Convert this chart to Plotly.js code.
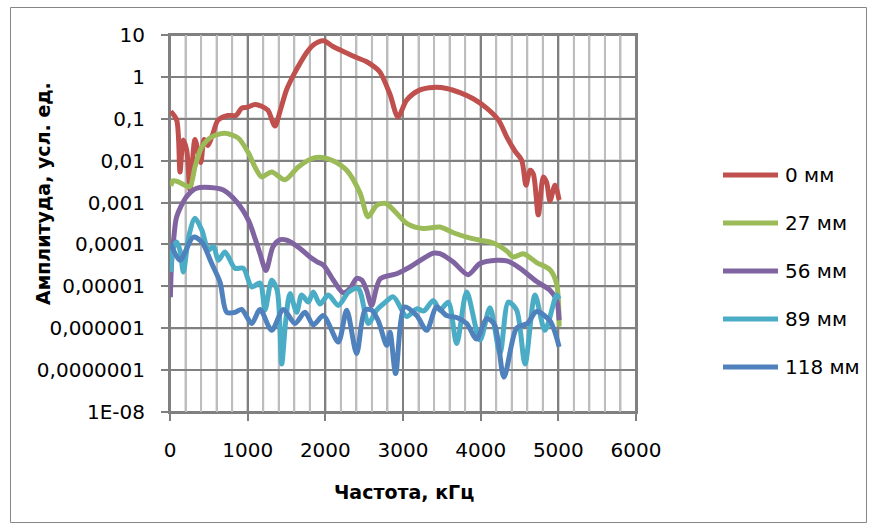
<!DOCTYPE html>
<html>
<head>
<meta charset="utf-8">
<script src="https://cdn.plot.ly/plotly-3.0.1.min.js"></script>
<style>
  html, body { margin: 0; padding: 0; background: #ffffff; }
  #chart { width: 880px; height: 532px; }
</style>
</head>
<body>
<div id="chart"></div>
<script>
// ---- Data ----
const seriesNames = ["0 мм", "27 мм", "56 мм", "89 мм", "118 мм"];
const seriesColors = ["#C0504D", "#9BBB59", "#8064A2", "#4BACC6", "#4F81BD"];

const freq0 = [10, 86, 129, 170, 215, 258, 322, 395, 440, 489, 554, 618, 747, 850, 923, 1000, 1094, 1180, 1260, 1352, 1416, 1502, 1600, 1674, 1760, 1845, 1975, 2100, 2275, 2400, 2532, 2620, 2704, 2833, 2935, 3047, 3219, 3390, 3562, 3734, 3905, 4077, 4230, 4335, 4442, 4528, 4584, 4635, 4678, 4742, 4807, 4850, 4892, 4957, 5010];
const amp0  = [0.15, 0.093, 0.0054, 0.031, 0.018, 0.002, 0.032, 0.009, 0.032, 0.023, 0.045, 0.093, 0.12, 0.12, 0.18, 0.19, 0.22, 0.2, 0.16, 0.067, 0.15, 0.5, 1.2, 2.1, 3.8, 5.8, 7.3, 5.3, 3.7, 2.9, 2.3, 1.8, 1.3, 0.38, 0.11, 0.28, 0.49, 0.56, 0.53, 0.42, 0.3, 0.18, 0.093, 0.037, 0.017, 0.0103, 0.0026, 0.0059, 0.0048, 0.00051, 0.0041, 0.003, 0.0011, 0.0026, 0.00115];

const freq27 = [10, 40, 107, 193, 258, 322, 408, 537, 708, 876, 1004, 1094, 1180, 1309, 1481, 1652, 1846, 1975, 2100, 2275, 2446, 2550, 2661, 2780, 2900, 3047, 3262, 3476, 3648, 3820, 3991, 4163, 4335, 4420, 4549, 4721, 4892, 4978, 5010];
const amp27  = [0.0025, 0.0033, 0.0031, 0.0026, 0.0024, 0.0071, 0.021, 0.037, 0.045, 0.035, 0.016, 0.0071, 0.0041, 0.0054, 0.0035, 0.0071, 0.0115, 0.0118, 0.01, 0.0059, 0.0017, 0.00046, 0.00086, 0.00095, 0.0006, 0.00032, 0.00024, 0.00026, 0.00019, 0.00015, 0.000126, 0.000108, 0.00007, 0.00005, 0.00006, 0.000037, 0.000025, 0.0000115, 0.0000011];

const freq56 = [5, 20, 50, 86, 215, 343, 515, 687, 859, 1009, 1100, 1159, 1236, 1326, 1420, 1502, 1674, 1802, 1900, 1975, 2104, 2232, 2320, 2403, 2470, 2532, 2596, 2704, 2918, 3090, 3390, 3476, 3648, 3837, 3991, 4206, 4350, 4506, 4721, 4892, 4978, 5010];
const amp56  = [5.5e-6, 3.5e-5, 1.5e-4, 4.6e-4, 1.4e-3, 2.2e-3, 2.3e-3, 2.0e-3, 1.04e-3, 3.8e-4, 1.3e-4, 6e-5, 2.4e-5, 8.8e-5, 1.3e-4, 1.26e-4, 8e-5, 5e-5, 3.8e-5, 3.2e-5, 1.4e-5, 7e-6, 9e-6, 1.55e-5, 1.4e-5, 8e-6, 3.5e-6, 1.5e-5, 2e-5, 2.9e-5, 6.2e-5, 6e-5, 3.8e-5, 1.9e-5, 3.5e-5, 4.2e-5, 4e-5, 2.7e-5, 1.3e-5, 8.1e-6, 4.7e-6, 1.55e-6];

const freq89 = [10, 40, 86, 130, 172, 240, 322, 410, 494, 560, 622, 708, 837, 944, 1052, 1159, 1223, 1309, 1380, 1438, 1490, 1545, 1631, 1695, 1781, 1845, 1931, 2039, 2167, 2300, 2425, 2554, 2661, 2760, 2876, 3047, 3176, 3270, 3390, 3476, 3583, 3691, 3820, 3991, 4120, 4249, 4356, 4463, 4571, 4700, 4828, 4978, 5010];
const amp89  = [2.2e-5, 8e-5, 1.15e-4, 7e-5, 2.2e-5, 1.5e-4, 4.2e-4, 2.2e-4, 7.3e-5, 9e-5, 4.2e-5, 6.6e-5, 2.7e-5, 2.7e-5, 9.7e-6, 1.2e-5, 2.7e-6, 1.4e-5, 8e-6, 1.4e-7, 1.5e-6, 6.7e-6, 2.4e-6, 6.2e-6, 4.2e-6, 7.3e-6, 3.8e-6, 6.2e-6, 3.5e-6, 7.3e-6, 8.8e-6, 1.3e-6, 2.7e-6, 4e-6, 5.6e-6, 1.9e-6, 2.9e-6, 2.6e-6, 4.6e-6, 2.7e-6, 4.2e-6, 4.3e-7, 7.3e-6, 5.2e-7, 3.1e-6, 2.5e-7, 4.2e-6, 2.7e-6, 1.4e-7, 6.2e-6, 8.9e-7, 6.2e-6, 5e-6];

const freq118 = [10, 129, 300, 408, 537, 644, 730, 837, 923, 1052, 1159, 1309, 1459, 1609, 1738, 1845, 1974, 2167, 2275, 2403, 2510, 2596, 2682, 2790, 2833, 2905, 3020, 3176, 3305, 3433, 3562, 3691, 3820, 3948, 4077, 4180, 4300, 4463, 4600, 4721, 4892, 5010];
const amp118  = [1.05e-4, 4.2e-5, 1.5e-4, 1.15e-4, 3.5e-5, 1.26e-5, 2.4e-6, 2.4e-6, 2.8e-6, 1.3e-6, 2.8e-6, 8.9e-7, 2.8e-6, 1.3e-6, 2.4e-6, 1.2e-6, 2e-6, 4.7e-7, 2.7e-6, 2.5e-7, 2.7e-6, 2.7e-6, 1.5e-6, 3.9e-7, 8e-7, 8.3e-8, 3.2e-6, 2e-6, 8.9e-7, 3.2e-6, 2e-6, 1.8e-6, 1.3e-6, 5.5e-7, 1.7e-6, 1.2e-6, 6.8e-8, 1e-6, 1.3e-6, 2.5e-6, 1.5e-6, 3.6e-7];

const xValues = [freq0, freq27, freq56, freq89, freq118];
const yValues = [amp0, amp27, amp56, amp89, amp118];

const yTickVals = [10, 1, 0.1, 0.01, 0.001, 0.0001, 0.00001, 0.000001, 0.0000001, 1e-8];
const yTickText = ["10", "1", "0,1", "0,01", "0,001", "0,0001", "0,00001", "0,000001", "0,0000001", "1E-08"];

const xTitle = "Частота, кГц";
const yTitle = "Амплитуда, усл. ед.";

// ---- Chart ----
const FONT = "DejaVu Sans, sans-serif";
const MAJOR = "#808080", MINOR = "#bdbdbd";
const X_RANGE = [0, 6000], X_MAJOR = 1000, X_MINOR = 200;
const Y_LOG_RANGE = [-8, 1];

const traces = seriesNames.map((name, i) => ({
  x: xValues[i],
  y: yValues[i],
  name: name,
  type: "scatter",
  mode: "lines",
  showlegend: false,
  line: { color: seriesColors[i], width: 5, shape: "spline", smoothing: 0.8 }
}));

const plotLeft = 170, plotRight = 636, plotTop = 35, plotBottom = 412;
const pw = plotRight - plotLeft, ph = plotBottom - plotTop;
const px2x = p => (p - plotLeft) / pw;
const py2y = p => (plotBottom - p) / ph;

// legend placement (pixels)
const legLineX0 = 723, legLineX1 = 778, legTextX = 783;
const legY0 = 175, legStep = 48;

const shapes = [];
// grid lines tied to the axes: vertical every 200 (darker every 1000), horizontal at each decade tick
for (let v = X_RANGE[0]; v <= X_RANGE[1]; v += X_MINOR) {
  const major = v % X_MAJOR === 0;
  shapes.push({
    type: "line", xref: "x", yref: "paper", x0: v, x1: v, y0: 0, y1: 1,
    line: { color: major ? MAJOR : MINOR, width: 2 }, layer: "between"
  });
}
yTickVals.forEach(v => {
  const yy = (Math.log10(v) - Y_LOG_RANGE[0]) / (Y_LOG_RANGE[1] - Y_LOG_RANGE[0]);
  shapes.push({
    type: "line", xref: "x", yref: "paper", x0: X_RANGE[0], x1: X_RANGE[1], y0: yy, y1: yy,
    line: { color: MAJOR, width: 2 }, layer: "between"
  });
});
// outer chart frame
shapes.push({
  type: "rect", xref: "paper", yref: "paper",
  x0: px2x(10.5), x1: px2x(866.5), y0: py2y(522.5), y1: py2y(7.5),
  line: { color: "#868686", width: 1 }
});

const annotations = [
  {
    text: xTitle, xref: "paper", yref: "paper",
    x: px2x(404), y: py2y(492), xanchor: "center", yanchor: "middle",
    showarrow: false,
    font: { family: FONT, size: 19, color: "#000000", weight: "bold" }
  },
  {
    text: yTitle, xref: "paper", yref: "paper",
    x: px2x(43), y: py2y(194), xanchor: "center", yanchor: "middle",
    textangle: -90, showarrow: false,
    font: { family: FONT, size: 19, color: "#000000", weight: "bold" }
  }
];
seriesNames.forEach((name, i) => {
  const yy = py2y(legY0 + i * legStep);
  shapes.push({
    type: "line", xref: "paper", yref: "paper",
    x0: px2x(legLineX0), x1: px2x(legLineX1), y0: yy, y1: yy,
    line: { color: seriesColors[i], width: 5 }
  });
  annotations.push({
    text: name, xref: "paper", yref: "paper",
    x: px2x(legTextX), y: yy, xanchor: "left", yanchor: "middle",
    showarrow: false,
    font: { family: FONT, size: 20, color: "#000000" }
  });
});

const layout = {
  width: 880,
  height: 532,
  margin: { l: plotLeft, r: 880 - plotRight, t: plotTop, b: 532 - plotBottom },
  font: { family: FONT, size: 20, color: "#000000" },
  showlegend: false,
  xaxis: {
    range: X_RANGE,
    dtick: X_MAJOR,
    showgrid: true,
    gridcolor: MAJOR,
    gridwidth: 2,
    zeroline: false,
    showline: true,
    mirror: true,
    linecolor: MAJOR,
    linewidth: 2,
    ticks: "outside",
    ticklen: 7,
    tickcolor: MAJOR,
    tickwidth: 2,
    ticklabelstandoff: 12,
    tickfont: { family: FONT, size: 20, color: "#000000" },
    minor: { dtick: X_MINOR, showgrid: true, gridcolor: MINOR, gridwidth: 2, ticks: "" }
  },
  yaxis: {
    type: "log",
    range: Y_LOG_RANGE,
    tickmode: "array",
    tickvals: yTickVals,
    ticktext: yTickText,
    showgrid: true,
    gridcolor: MAJOR,
    gridwidth: 2,
    zeroline: false,
    showline: true,
    mirror: true,
    linecolor: MAJOR,
    linewidth: 2,
    ticks: "outside",
    ticklen: 7,
    tickcolor: MAJOR,
    tickwidth: 2,
    ticklabelstandoff: 12,
    tickfont: { family: FONT, size: 20, color: "#000000" }
  },
  annotations: annotations,
  shapes: shapes
};

Plotly.newPlot("chart", traces, layout, { displayModeBar: false, staticPlot: true });
</script>
</body>
</html>
